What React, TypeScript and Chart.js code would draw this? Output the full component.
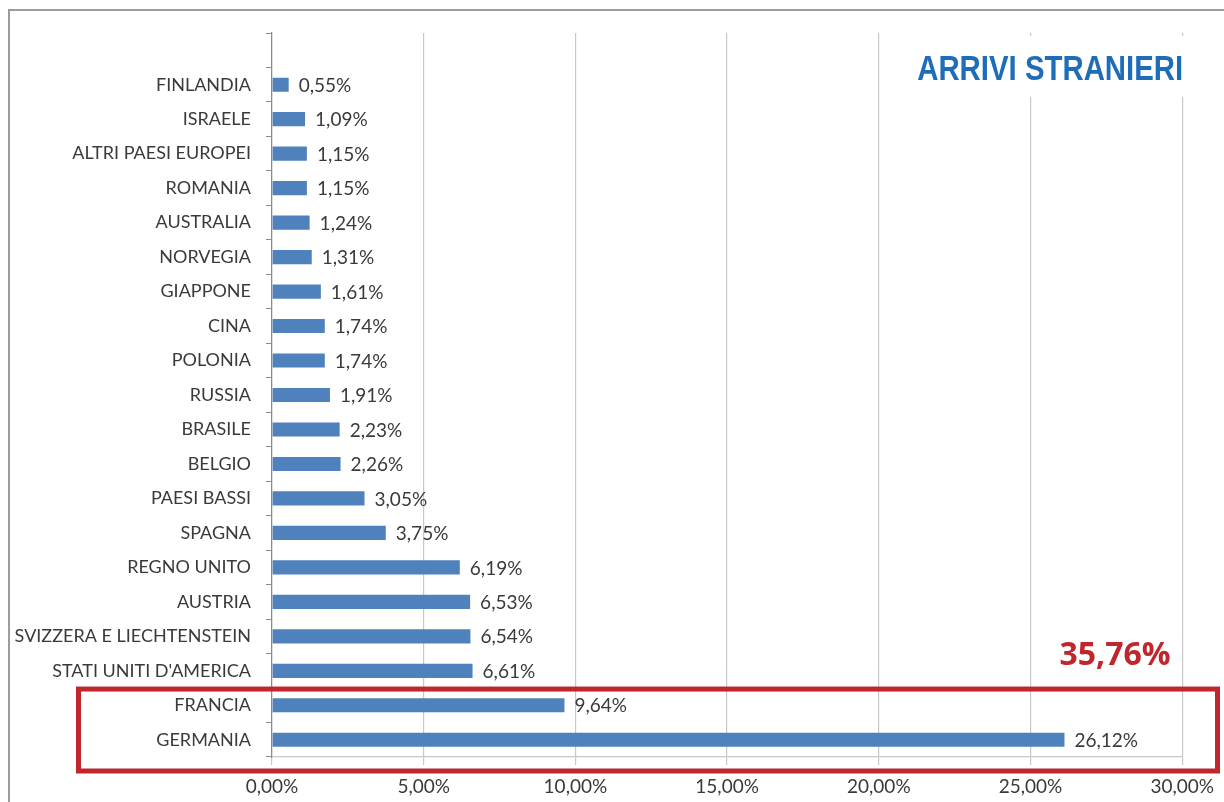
import React, { useEffect, useRef } from "react";
import { Chart, registerables } from "chart.js";

Chart.register(...registerables);

const categories: string[] = [
  "",
  "FINLANDIA",
  "ISRAELE",
  "ALTRI PAESI EUROPEI",
  "ROMANIA",
  "AUSTRALIA",
  "NORVEGIA",
  "GIAPPONE",
  "CINA",
  "POLONIA",
  "RUSSIA",
  "BRASILE",
  "BELGIO",
  "PAESI BASSI",
  "SPAGNA",
  "REGNO UNITO",
  "AUSTRIA",
  "SVIZZERA E LIECHTENSTEIN",
  "STATI UNITI D'AMERICA",
  "FRANCIA",
  "GERMANIA",
];

const shares: (number | null)[] = [
  null, 0.55, 1.09, 1.15, 1.15, 1.24, 1.31, 1.61, 1.74, 1.74, 1.91, 2.23, 2.26,
  3.05, 3.75, 6.19, 6.53, 6.54, 6.61, 9.64, 26.12,
];

const xTicks: number[] = [0, 5, 10, 15, 20, 25, 30];
const highlighted: string[] = ["FRANCIA", "GERMANIA"];
const titleText = "ARRIVI STRANIERI";

const FONT = "Lato, 'Open Sans', 'Liberation Sans', sans-serif";
const TEXT = "#3A3A3A";
const BAR = "#4F81BD";
const RED = "#C0272D";
const BLUE_TITLE = "#1E6DB9";

const fmt = (v: number) => v.toFixed(2).replace(".", ",") + "%";

const overlayPlugin = {
  id: "overlay",
  afterDatasetsDraw(chart: any) {
    const ctx = chart.ctx;
    const meta = chart.getDatasetMeta(0);
    ctx.save();
    ctx.font = `19px ${FONT}`;
    ctx.fillStyle = TEXT;
    ctx.textAlign = "left";
    ctx.textBaseline = "middle";
    meta.data.forEach((el: any, i: number) => {
      const v = shares[i];
      if (v == null) return;
      ctx.fillText(fmt(v), el.x + 10, el.y + 1);
    });
    ctx.restore();
  },
  afterDraw(chart: any) {
    const ctx = chart.ctx;
    const { chartArea, scales } = chart;
    const y = scales.y;
    ctx.save();
    // outer frame
    ctx.strokeStyle = "#9C9C9C";
    ctx.lineWidth = 2;
    ctx.strokeRect(9, 10, 1400, 1000);

    // title with white backing
    ctx.fillStyle = "#FFFFFF";
    ctx.fillRect(900, chartArea.top + 3, 300, 61);
    ctx.font = `bold 35px 'Liberation Sans Narrow', 'Arial Narrow', 'Liberation Sans', sans-serif`;
    const w = ctx.measureText(titleText).width;
    const target = 266;
    ctx.fillStyle = BLUE_TITLE;
    ctx.textBaseline = "alphabetic";
    ctx.textAlign = "left";
    ctx.translate(chartArea.right + 1 - target, 80);
    ctx.scale(target / w, 1);
    ctx.fillText(titleText, 0, 0);
    ctx.setTransform(1, 0, 0, 1, 0, 0);

    // highlight box
    const idxs = highlighted.map((h) => categories.indexOf(h));
    const first = Math.min(...idxs);
    const step = y.getPixelForValue(1) - y.getPixelForValue(0);
    const top = y.getPixelForValue(first) - step / 2;
    const bottom = chartArea.bottom + 14;
    ctx.strokeStyle = RED;
    ctx.lineWidth = 5;
    ctx.strokeRect(78.5, top + 1, 1217.5 - 78.5, bottom - top - 1);

    // total text
    const total = idxs.reduce((s, i) => s + (shares[i] || 0), 0);
    ctx.font = `bold 32px 'Open Sans', 'Liberation Sans', sans-serif`;
    ctx.fillStyle = RED;
    ctx.textAlign = "center";
    ctx.textBaseline = "alphabetic";
    ctx.fillText(fmt(total), 1115, 665);
    ctx.restore();
  },
};

export default function App() {
  const ref = useRef<HTMLCanvasElement | null>(null);
  useEffect(() => {
    document.body.style.margin = "0";
    const canvas = ref.current!;
    const chart = new Chart(canvas, {
      type: "bar",
      data: {
        labels: categories,
        datasets: [
          {
            data: shares as any,
            backgroundColor: BAR,
            borderWidth: 0,
            barPercentage: 0.41,
            categoryPercentage: 1,
          },
        ],
      },
      options: {
        indexAxis: "y",
        animation: false,
        responsive: false,
        maintainAspectRatio: false,
        layout: { padding: { left: 0, right: 41, top: 33, bottom: 0 } },
        plugins: {
          legend: { display: false },
          tooltip: { enabled: false },
          title: { display: false },
        },
        scales: {
          x: {
            type: "linear",
            min: 0,
            max: 30,
            afterFit: (s: any) => {
              s.height = 45;
            },
            afterBuildTicks: (s: any) => {
              s.ticks = xTicks.map((v) => ({ value: v }));
            },
            ticks: {
              font: { family: FONT, size: 19 },
              color: TEXT,
              padding: 10,
              callback: (v: any) => fmt(Number(v)),
            },
            grid: {
              color: "#C8C8C8",
              lineWidth: 1.2,
              tickLength: 8,
              drawTicks: true,
            },
            border: { display: true, color: "#C8C8C8", width: 1.2 },
          },
          y: {
            type: "category",
            afterFit: (s: any) => {
              s.width = 272;
            },
            ticks: {
              font: { family: FONT, size: 18 },
              color: TEXT,
              padding: 15,
              autoSkip: false,
            },
            grid: {
              display: true,
              drawOnChartArea: false,
              drawTicks: true,
              tickLength: 6,
              color: "#8C8C8C",
              offset: true,
            },
            border: { display: true, color: "#8C8C8C", width: 1.2 },
          },
        },
      },
      plugins: [overlayPlugin],
    });
    return () => chart.destroy();
  }, []);
  return (
    <canvas
      ref={ref}
      width={1224}
      height={802}
      style={{ display: "block", width: 1224, height: 802 }}
    />
  );
}
